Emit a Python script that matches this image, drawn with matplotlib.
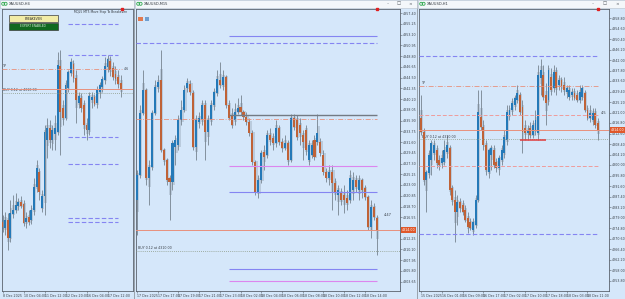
import numpy as np
import matplotlib
matplotlib.use("Agg")
import matplotlib.pyplot as plt
from matplotlib.patches import Rectangle, Circle

# ---------------- data ----------------
# Panel 1 : XAUUSD,H4
h4_open = [4181, 4175, 4183, 4165, 4189, 4193, 4197, 4201, 4199, 4181,
           4186, 4183, 4193, 4216, 4231, 4195, 4207, 4263, 4275, 4263,
           4269, 4271, 4337, 4295, 4285, 4315, 4330, 4339, 4325, 4300,
           4305, 4298, 4278, 4273, 4303, 4306, 4300, 4311, 4316, 4323,
           4336, 4342, 4335, 4329, 4326, 4320]
h4_high = [4188, 4191, 4190, 4203, 4208, 4210, 4205, 4207, 4203, 4191,
           4193, 4198, 4225, 4243, 4235, 4213, 4278, 4285, 4283, 4278,
           4288, 4351, 4353, 4303, 4323, 4333, 4345, 4343, 4333, 4311,
           4310, 4303, 4285, 4311, 4311, 4309, 4317, 4321, 4327, 4346,
           4348, 4347, 4341, 4337, 4333, 4328]
h4_low = [4171, 4168, 4153, 4161, 4185, 4190, 4193, 4195, 4177, 4175,
          4178, 4179, 4188, 4211, 4203, 4191, 4188, 4245, 4255, 4253,
          4253, 4268, 4248, 4278, 4283, 4311, 4327, 4321, 4280, 4295,
          4291, 4268, 4263, 4268, 4295, 4297, 4295, 4305, 4311, 4319,
          4331, 4327, 4323, 4319, 4315, 4306]
h4_close = [4176, 4183, 4165, 4190, 4193, 4198, 4201, 4197, 4180, 4185,
            4181, 4193, 4216, 4235, 4211, 4207, 4271, 4275, 4263, 4273,
            4275, 4338, 4291, 4285, 4318, 4331, 4341, 4325, 4303, 4307,
            4295, 4278, 4273, 4307, 4306, 4299, 4313, 4318, 4324, 4337,
            4344, 4333, 4326, 4324, 4319, 4313]
h4_xlabels = ["8 Dec 2025", "10 Dec 04:00", "11 Dec 12:00", "12 Dec 20:00",
              "16 Dec 04:00", "17 Dec 12:00"]
h4_xlabel_bars = [0, 8, 16, 24, 32, 40]
h4_blue_levels = [4379, 4348, 4266, 4239, 4185, 4181]
h4_level_bars = [25, 44]
h4_tp = 4334
h4_price = 4314
h4_buy = 4310

# Panel 2 : XAUUSD,M15
m15_open = [4320.0, 4325.0, 4337.4, 4342.0, 4324.4, 4326.6, 4337.4, 4342.6, 4344.0, 4330.0,
            4328.0, 4324.4, 4323.6, 4330.6, 4331.0, 4336.0, 4338.0, 4342.4, 4343.2, 4341.4,
            4330.6, 4335.6, 4336.0, 4339.0, 4333.6, 4336.0, 4339.0, 4341.4, 4344.0, 4343.0,
            4344.6, 4339.0, 4337.0, 4336.0, 4337.6, 4338.6, 4337.6, 4336.6, 4335.6, 4333.4,
            4327.6, 4321.6, 4324.0, 4329.6, 4329.0, 4333.0, 4332.4, 4331.4, 4334.4, 4331.6,
            4330.4, 4331.4, 4328.0, 4336.4, 4336.0, 4335.0, 4333.0, 4334.0, 4328.0, 4329.0,
            4332.0, 4331.6, 4331.6, 4329.0, 4325.6, 4324.4, 4325.6, 4323.4, 4321.0, 4321.4,
            4321.0, 4320.4, 4320.0, 4322.0, 4324.0, 4322.0, 4324.0, 4322.4, 4320.6, 4314.6,
            4318.6, 4316.4]
m15_high = [4326.0, 4339.0, 4346.0, 4342.4, 4328.0, 4338.0, 4344.0, 4345.0, 4350.0, 4330.4,
            4328.4, 4325.0, 4332.0, 4333.0, 4337.0, 4340.0, 4343.0, 4344.4, 4344.0, 4342.0,
            4337.0, 4337.6, 4340.0, 4340.0, 4337.0, 4340.0, 4342.4, 4346.0, 4347.6, 4346.0,
            4345.0, 4340.0, 4338.4, 4339.4, 4340.4, 4341.0, 4338.0, 4337.6, 4336.4, 4334.0,
            4328.0, 4325.0, 4330.0, 4331.0, 4334.0, 4334.4, 4333.4, 4336.0, 4335.0, 4332.4,
            4333.0, 4332.0, 4337.2, 4337.2, 4337.0, 4336.4, 4334.0, 4335.0, 4332.0, 4332.0,
            4333.0, 4337.2, 4332.4, 4330.0, 4326.4, 4327.0, 4327.0, 4324.4, 4323.0, 4322.4,
            4323.0, 4322.0, 4326.0, 4325.6, 4325.0, 4325.0, 4324.4, 4323.0, 4321.0, 4320.0,
            4319.4, 4317.0]
m15_low = [4313.0, 4324.4, 4337.0, 4323.0, 4319.0, 4326.0, 4337.0, 4341.6, 4329.6, 4327.0,
           4323.0, 4316.0, 4322.0, 4327.0, 4330.0, 4335.0, 4337.6, 4341.6, 4341.0, 4330.0,
           4328.0, 4334.4, 4335.0, 4328.0, 4331.0, 4335.0, 4338.0, 4340.8, 4342.4, 4342.0,
           4338.4, 4336.0, 4334.4, 4335.0, 4337.2, 4337.0, 4336.0, 4335.0, 4332.8, 4327.0,
           4321.0, 4320.4, 4323.4, 4326.0, 4328.4, 4331.0, 4330.0, 4330.6, 4331.0, 4329.6,
           4330.0, 4327.0, 4327.6, 4334.0, 4332.0, 4331.0, 4328.0, 4329.0, 4327.0, 4328.4,
           4328.0, 4331.0, 4328.8, 4325.0, 4323.6, 4323.0, 4318.0, 4320.0, 4317.0, 4319.0,
           4317.4, 4318.0, 4319.4, 4320.0, 4321.6, 4320.0, 4320.4, 4320.0, 4314.0, 4312.4,
           4316.0, 4309.0]
m15_close = [4325.0, 4337.4, 4342.0, 4324.4, 4326.6, 4337.4, 4342.6, 4343.6, 4330.0, 4328.0,
             4324.0, 4323.6, 4331.4, 4332.0, 4336.0, 4338.0, 4342.0, 4343.4, 4341.6, 4330.6,
             4336.0, 4336.4, 4339.0, 4333.6, 4336.0, 4339.0, 4341.6, 4344.2, 4343.0, 4344.6,
             4339.0, 4336.4, 4335.0, 4337.6, 4338.4, 4337.6, 4336.6, 4335.6, 4333.4, 4327.6,
             4321.6, 4324.0, 4329.4, 4328.6, 4333.0, 4332.0, 4331.4, 4334.4, 4331.6, 4330.4,
             4331.4, 4328.0, 4336.4, 4334.6, 4332.6, 4333.4, 4331.6, 4330.0, 4331.0, 4331.0,
             4328.6, 4333.4, 4329.4, 4325.6, 4324.4, 4325.6, 4323.4, 4321.4, 4322.0, 4320.0,
             4320.0, 4319.4, 4324.4, 4324.0, 4322.6, 4324.0, 4322.0, 4320.6, 4314.6, 4318.6,
             4316.6, 4314.0]
m15_xlabels = ["17 Dec 2025", "17 Dec 17:00", "17 Dec 19:00", "17 Dec 21:00",
               "17 Dec 23:00", "18 Dec 02:00", "18 Dec 04:00", "18 Dec 06:00",
               "18 Dec 08:00", "18 Dec 10:00", "18 Dec 12:00", "18 Dec 14:00"]
m15_xlabel_bars = [0, 7, 14, 21, 28, 35, 42, 49, 56, 63, 70, 77]
m15_yticks = [4357.40, 4355.25, 4353.10, 4350.95, 4348.80, 4346.65, 4344.50, 4342.35,
              4340.20, 4338.05, 4335.90, 4333.75, 4331.60, 4329.45, 4327.30, 4325.15,
              4323.00, 4320.85, 4318.70, 4316.55, 4314.40, 4312.25, 4310.10, 4307.95,
              4305.80, 4303.65]
m15_blue_solid = [4352.8, 4321.6, 4306.1]
m15_magenta = [4326.9, 4303.9]
m15_grey = 4337.1
m15_blue_dashed = 4351.5
m15_tp = 4336.3
m15_price = 4314.0
m15_buy = 4309.8
m15_level_start = 31

# Panel 3 : XAUUSD,H1
h1_open = [4318.8, 4313.2, 4294.0, 4296.8, 4302.0, 4304.8, 4306.0, 4302.0, 4300.8, 4301.2,
           4305.2, 4306.8, 4290.8, 4286.0, 4281.2, 4285.2, 4284.0, 4282.0, 4278.8, 4277.2,
           4274.0, 4276.0, 4286.0, 4319.2, 4315.2, 4308.0, 4297.2, 4304.0, 4306.0, 4301.2,
           4298.8, 4302.0, 4304.8, 4310.0, 4320.0, 4322.0, 4324.0, 4326.0, 4328.0, 4323.2,
           4314.8, 4312.8, 4314.8, 4312.0, 4314.0, 4312.8, 4334.8, 4336.0, 4328.0, 4326.0,
           4335.2, 4330.8, 4337.2, 4332.0, 4334.0, 4332.0, 4329.2, 4327.2, 4328.0, 4328.8,
           4328.0, 4326.0, 4327.2, 4328.8, 4322.0, 4318.8, 4318.0, 4320.8, 4316.8]
h1_high = [4328.0, 4314.8, 4298.0, 4306.0, 4310.0, 4310.0, 4308.0, 4304.0, 4306.0, 4310.0,
           4312.0, 4308.0, 4292.0, 4290.0, 4288.0, 4286.8, 4286.0, 4284.0, 4281.2, 4278.8,
           4278.8, 4288.0, 4330.0, 4330.0, 4318.0, 4310.0, 4306.8, 4308.0, 4308.0, 4302.8,
           4304.0, 4308.0, 4314.0, 4324.0, 4324.0, 4326.8, 4328.0, 4332.0, 4329.2, 4326.0,
           4318.0, 4316.0, 4317.2, 4318.0, 4322.0, 4340.0, 4342.4, 4340.0, 4332.8, 4340.0,
           4338.8, 4340.0, 4339.2, 4336.0, 4335.2, 4335.2, 4332.0, 4332.0, 4330.8, 4330.8,
           4330.0, 4332.0, 4332.0, 4330.0, 4324.0, 4324.0, 4322.8, 4322.8, 4318.8]
h1_low = [4312.0, 4292.0, 4281.2, 4294.8, 4296.0, 4302.0, 4298.8, 4298.0, 4298.8, 4300.0,
          4302.8, 4288.0, 4284.0, 4269.2, 4276.0, 4281.2, 4280.0, 4277.2, 4272.8, 4274.0,
          4272.0, 4274.8, 4285.2, 4314.0, 4306.0, 4296.0, 4294.8, 4298.0, 4298.8, 4297.2,
          4296.0, 4300.0, 4302.8, 4308.0, 4318.0, 4320.0, 4322.0, 4324.8, 4320.0, 4304.8,
          4310.0, 4310.0, 4310.8, 4310.8, 4312.0, 4310.0, 4328.0, 4326.0, 4316.0, 4324.0,
          4328.0, 4329.2, 4328.0, 4330.0, 4329.2, 4328.0, 4326.8, 4326.0, 4326.0, 4326.0,
          4325.2, 4324.8, 4326.0, 4321.2, 4318.0, 4317.2, 4316.0, 4314.8, 4310.0]
h1_close = [4313.2, 4294.0, 4297.2, 4304.0, 4308.8, 4308.0, 4300.8, 4300.0, 4302.8, 4306.0,
            4308.0, 4290.0, 4286.0, 4281.2, 4285.2, 4282.8, 4281.2, 4278.0, 4275.2, 4274.8,
            4277.2, 4286.0, 4321.2, 4315.2, 4308.0, 4298.0, 4306.0, 4306.8, 4300.0, 4298.8,
            4302.8, 4306.0, 4311.2, 4321.2, 4322.0, 4324.8, 4326.8, 4328.8, 4321.2, 4313.2,
            4312.8, 4314.0, 4312.0, 4316.0, 4318.0, 4336.0, 4338.0, 4327.2, 4324.8, 4338.0,
            4330.0, 4337.2, 4330.8, 4334.0, 4331.2, 4330.0, 4330.8, 4330.0, 4329.2, 4326.8,
            4326.0, 4329.2, 4330.8, 4322.0, 4318.8, 4320.8, 4320.8, 4316.0, 4314.0]
h1_xlabels = ["15 Dec 2025", "16 Dec 01:00", "16 Dec 09:00", "16 Dec 17:00", "17 Dec 02:00",
              "17 Dec 10:00", "17 Dec 18:00", "18 Dec 03:00", "18 Dec 11:00"]
h1_xlabel_bars = [0, 8, 16, 24, 32, 40, 48, 56, 64]
h1_yticks = [4358.80, 4354.60, 4350.40, 4346.20, 4342.00, 4337.80, 4333.60, 4329.40,
             4325.20, 4321.00, 4316.80, 4312.60, 4308.40, 4304.20, 4300.00, 4295.80,
             4291.60, 4287.40, 4283.20, 4279.00, 4274.80, 4270.60, 4266.40, 4262.20,
             4258.00, 4253.80]
h1_blue_dashed = [4343.6, 4272.3]
h1_pink_dashed = [4320.0, 4299.6]
h1_tp = 4331.6
h1_price = 4314.0
h1_buy = 4310.3
h1_red_level = 4310.0
h1_red_bars = [38, 48]

# ---------------- style ----------------
W, H = 625, 299
BG = '#d5e7fa'
BULL = '#2479b8'
BEAR = '#bf6237'
WICK = '#76838f'
PALE = '#b6c6d8'
SPINE = '#5a636d'
TXT = '#3a4149'
SALMON = '#e8907c'
PERI = '#8585f2'
MAG = '#dc86ee'
FS = 2.3

plt.rcParams['font.family'] = ['DejaVu Sans']
fig = plt.figure(figsize=(W / 100, H / 100), dpi=100)
fig.patch.set_facecolor('#9aa4ae')

bg = fig.add_axes([0, 0, 1, 1])
bg.set_xlim(0, W)
bg.set_ylim(H, 0)
bg.axis('off')

windows = [(0, 133.5), (135, 416.5), (418, 625)]
titles = ["XAUUSD,H4", "XAUUSD,M15", "XAUUSD,H1"]
for (x0, x1), t in zip(windows, titles):
    bg.add_patch(Rectangle((x0, 0), x1 - x0, H, facecolor=BG, edgecolor='none'))
    bg.add_patch(Rectangle((x0, 0), x1 - x0, 7.5, facecolor='#f4f7fa',
                           edgecolor='#b7c0ca', lw=0.4))
    bg.add_patch(Circle((x0 + 3.2, 3.8), 1.5, facecolor='none', edgecolor='#2fa84f', lw=0.6))
    bg.add_patch(Circle((x0 + 5.6, 3.8), 1.5, facecolor='none', edgecolor='#2fa84f', lw=0.6))
    bg.text(x0 + 8.5, 3.9, t, fontsize=2.6, color='#30363c', va='center', ha='left')

for xc in [(388, 399, 410), (593, 605, 617)]:
    for x, s in zip(xc, ["\u2013", "\u25a1", "\u00d7"]):
        bg.text(x, 3.8, s, fontsize=3.2, color='#50575e', ha='center', va='center')


def px_axes(x0, y0, x1, y1):
    return fig.add_axes([x0 / W, (H - y1) / H, (x1 - x0) / W, (y1 - y0) / H])


def draw_candles(ax, o, h, l, c, body_w=0.7):
    o, h, l, c = map(np.asarray, (o, h, l, c))
    x = np.arange(len(o))
    up = c >= o
    lo = np.minimum(o, c)
    hi = np.maximum(o, c)
    yr = ax.get_ylim()
    tiny = abs(yr[1] - yr[0]) * 0.004
    plo = lo - (lo - l) * 0.35
    phi = hi + (h - hi) * 0.35
    ax.bar(x + 0.25, phi - plo, bottom=plo, width=1.05, color=PALE, lw=0, zorder=2, alpha=0.85)
    ax.vlines(x, l, h, color=WICK, lw=0.6, zorder=3)
    bh = np.maximum(hi - lo, tiny)
    ax.bar(x[up], bh[up], bottom=lo[up], width=body_w, color=BULL, lw=0, zorder=4)
    ax.bar(x[~up], bh[~up], bottom=lo[~up], width=body_w, color=BEAR, lw=0, zorder=4)


def style_axes(ax, xt, xl, yt=None):
    ax.set_facecolor(BG)
    for s in ax.spines.values():
        s.set_color(SPINE)
        s.set_linewidth(0.6)
    ax.set_xticks(xt)
    ax.set_xticklabels(xl, ha='left')
    ax.tick_params(axis='x', length=1.5, width=0.4, color=SPINE, labelsize=FS,
                   labelcolor=TXT, pad=0.8)
    if yt is None:
        ax.set_yticks([])
    else:
        ax.set_yticks(yt)
        ax.set_yticklabels([f"{v:.2f}" for v in yt])
        ax.yaxis.tick_right()
        ax.tick_params(axis='y', length=1.5, width=0.4, color=SPINE, labelsize=FS,
                       labelcolor=TXT, pad=0.6)


def price_tag(ax, y, txt):
    ax.annotate(txt, xy=(1.0, y), xycoords=('axes fraction', 'data'),
                xytext=(1.2, 0), textcoords='offset points', fontsize=FS, color='white',
                va='center', ha='left', zorder=10, annotation_clip=False,
                bbox=dict(boxstyle='square,pad=0.25', fc='#e0582c', ec='none'))


def shift_marker(ax, xpos):
    ax.plot([xpos], [ax.get_ylim()[1]], marker='s', ms=1.6, color='#e02020',
            clip_on=False, zorder=12)


# ---------------- panel 1 ----------------
ax1 = px_axes(2, 8.5, 132.5, 290.5)
ax1.set_xlim(-0.2, 49.5)
ax1.set_ylim(4112.5, 4394.5)
style_axes(ax1, h4_xlabel_bars, h4_xlabels)
draw_candles(ax1, h4_open, h4_high, h4_low, h4_close)
ax1.hlines(h4_blue_levels, h4_level_bars[0], h4_level_bars[1], colors=PERI, lw=0.8,
           linestyles=(0, (4, 2)), zorder=5)
ax1.hlines(h4_tp, -0.2, 45.5, colors=SALMON, lw=0.6, linestyles=(0, (6, 2, 1, 2)), zorder=5)
ax1.axhline(h4_price, color=SALMON, lw=0.7, zorder=5)
ax1.axhline(h4_buy, color='#8d9a86', lw=0.6, ls=(0, (1, 1.5)), zorder=5)
ax1.text(0.2, h4_tp + 1, "TP", fontsize=FS, color=TXT, va='bottom')
ax1.text(46.2, h4_tp, "4.6", fontsize=FS, color=TXT, va='center')
ax1.text(0.2, h4_buy + 0.8, "BUY 0.12 at 4310.00", fontsize=FS, color=TXT, va='bottom')
shift_marker(ax1, 45.5)

# ---------------- panel 2 ----------------
ax2 = px_axes(135.5, 8.5, 400, 290.5)
ax2.set_xlim(-0.5, 88.9)
ax2.set_ylim(4301.9, 4358.3)
style_axes(ax2, m15_xlabel_bars, m15_xlabels, m15_yticks)
draw_candles(ax2, m15_open, m15_high, m15_low, m15_close)
last2 = len(m15_close) - 1
ax2.hlines(m15_blue_solid, m15_level_start, last2, colors=PERI, lw=0.8, zorder=5)
ax2.hlines(m15_magenta, m15_level_start, last2, colors=MAG, lw=0.8, zorder=5)
ax2.hlines(m15_grey, m15_level_start, last2, colors='#737b84', lw=1.0, zorder=5)
ax2.hlines(m15_blue_dashed, -0.5, last2, colors=PERI, lw=0.8, linestyles=(0, (4, 2)), zorder=5)
ax2.hlines(m15_tp, -0.5, last2, colors=SALMON, lw=0.6, linestyles=(0, (6, 2, 1, 2)), zorder=5)
ax2.axhline(m15_price, color=SALMON, lw=0.7, zorder=5)
ax2.axhline(m15_buy, color='#8d9a86', lw=0.6, ls=(0, (1, 1.5)), zorder=5)
ax2.text(0.2, m15_buy + 0.15, "BUY 0.12 at 4310.00", fontsize=FS, color=TXT, va='bottom')
ax2.text(83.5, 4317.0, "4.47", fontsize=2.6, color=TXT, va='center')
ax2.add_patch(Rectangle((0.3, 4355.8), 1.6, 0.9, fc='#e07a50', ec='none', zorder=6))
ax2.add_patch(Rectangle((2.6, 4355.8), 1.6, 0.9, fc='#6f9fd0', ec='none', zorder=6))
price_tag(ax2, m15_price, f"{m15_price:.2f}")
shift_marker(ax2, last2)

# ---------------- panel 3 ----------------
ax3 = px_axes(419, 8.5, 609, 290.5)
ax3.set_xlim(-0.77, 72.3)
ax3.set_ylim(4249.8, 4362.6)
style_axes(ax3, h1_xlabel_bars, h1_xlabels, h1_yticks)
draw_candles(ax3, h1_open, h1_high, h1_low, h1_close)
last3 = len(h1_close) - 1
ax3.hlines(h1_blue_dashed, -0.77, last3, colors=PERI, lw=0.8, linestyles=(0, (4, 2)), zorder=5)
ax3.hlines(h1_pink_dashed, -0.77, last3, colors='#ee9c9c', lw=0.7, linestyles=(0, (4, 2)), zorder=5)
ax3.hlines(h1_tp, -0.77, last3, colors=SALMON, lw=0.6, linestyles=(0, (6, 2, 1, 2)), zorder=5)
ax3.axhline(h1_price, color=SALMON, lw=0.7, zorder=5)
ax3.axhline(h1_buy, color='#8d9a86', lw=0.6, ls=(0, (1, 1.5)), zorder=5)
ax3.hlines(h1_red_level, h1_red_bars[0], h1_red_bars[1], colors='#e03c3c', lw=1.1, zorder=6)
ax3.text(0.2, h1_tp + 0.3, "TP", fontsize=FS, color=TXT, va='bottom')
ax3.text(last3 + 1.0, h1_pink_dashed[0] + 1.0, "4.5", fontsize=2.6, color=TXT, va='center')
ax3.text(0.2, h1_buy + 0.3, "BUY 0.12 at 4310.00", fontsize=FS, color=TXT, va='bottom')
price_tag(ax3, h1_price, f"{h1_price:.2f}")
shift_marker(ax3, last3)

# ---------------- panel 1 buttons / title ----------------
fg = fig.add_axes([0, 0, 1, 1])
fg.set_xlim(0, W)
fg.set_ylim(H, 0)
fg.axis('off')
fg.add_patch(Rectangle((8.5, 15), 49.5, 7, fc='#f2eca6', ec='#3c3c3c', lw=0.5))
fg.text(33.2, 18.6, "BREAKEVEN", fontsize=2.2, color='#2a2a2a', ha='center', va='center')
fg.add_patch(Rectangle((8.5, 22.5), 49.5, 7, fc='#11691f', ec='#3c3c3c', lw=0.5))
fg.text(33.2, 26.1, "EXPERT ENABLED", fontsize=2.2, color='#d8e8d8', ha='center', va='center')
fg.text(127, 12, "MQL5 MT5 Move Stop To Breakeven", fontsize=2.2, color='#30363c',
        ha='right', va='center')

fig.savefig("out.png", dpi=100, facecolor=fig.get_facecolor())
